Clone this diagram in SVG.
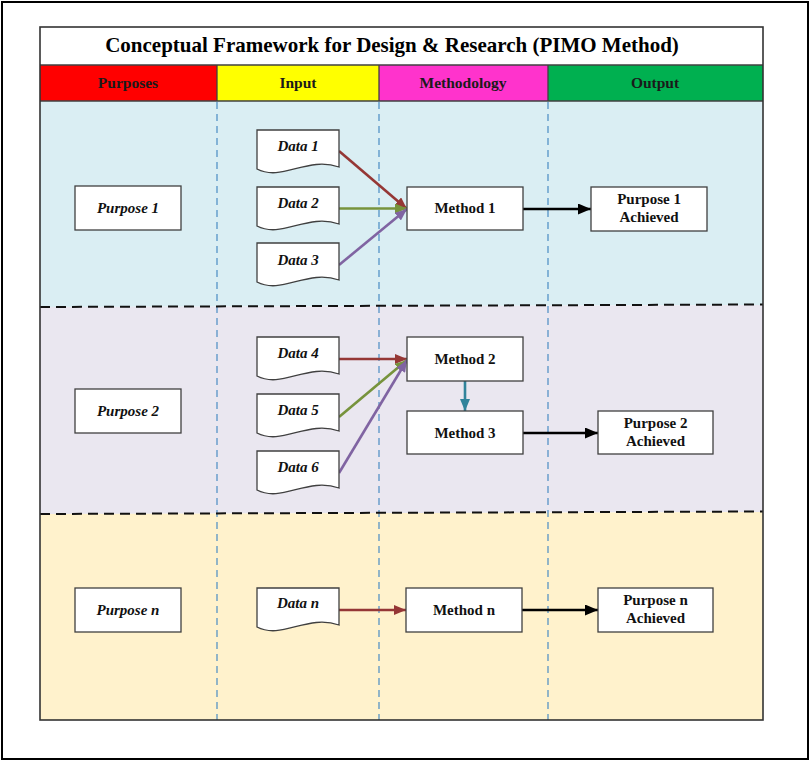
<svg xmlns="http://www.w3.org/2000/svg" width="811" height="762" viewBox="0 0 811 762">
<style>
.box{fill:#fff;stroke:#404040;stroke-width:1.3}
.doc{fill:#fff;stroke:#404040;stroke-width:1.3}
.t{font-family:"Liberation Serif","Times New Roman",serif;font-weight:bold;font-size:15px;fill:#111;text-anchor:middle}
.ti{font-style:italic}
.hd{font-family:"Liberation Serif","Times New Roman",serif;font-weight:bold;font-size:15.5px;fill:#1a1a1a;text-anchor:middle}
.vd{stroke:#4A8CC4;stroke-width:1.2;stroke-dasharray:7,5;fill:none}
.hdash{stroke:#111;stroke-width:2;stroke-dasharray:10,6;fill:none}
.c{fill:none;stroke-width:2.6}
</style>
<defs>
<marker id="aBlack" markerUnits="userSpaceOnUse" markerWidth="13" markerHeight="11" refX="13" refY="5.5" orient="auto"><path d="M0,0 L13,5.5 L0,11 z" fill="#000"/></marker>
<marker id="aBrown" markerUnits="userSpaceOnUse" markerWidth="12" markerHeight="10" refX="12" refY="5" orient="auto"><path d="M0,0 L12,5 L0,10 z" fill="#953735"/></marker>
<marker id="aGreen" markerUnits="userSpaceOnUse" markerWidth="12" markerHeight="10" refX="12" refY="5" orient="auto"><path d="M0,0 L12,5 L0,10 z" fill="#77933C"/></marker>
<marker id="aPurple" markerUnits="userSpaceOnUse" markerWidth="12" markerHeight="10" refX="12" refY="5" orient="auto"><path d="M0,0 L12,5 L0,10 z" fill="#8064A2"/></marker>
<marker id="aTeal" markerUnits="userSpaceOnUse" markerWidth="12" markerHeight="10" refX="12" refY="5" orient="auto"><path d="M0,0 L12,5 L0,10 z" fill="#31849B"/></marker>
</defs>

<rect x="2" y="2" width="806" height="757" fill="#fff" stroke="#000" stroke-width="2"/>

<g id="table">
<rect x="40" y="27" width="723" height="38" fill="#fff"/>
<polygon points="40,101 763,101 763,305 40,307" fill="#DAEEF3"/>
<polygon points="40,307 763,305 763,512 40,514" fill="#EAE7F0"/>
<polygon points="40,514 763,512 763,720 40,720" fill="#FFF2CC"/>
<rect x="40" y="65" width="177" height="36" fill="#FF0000"/>
<rect x="217" y="65" width="162" height="36" fill="#FFFF00"/>
<rect x="379" y="65" width="169" height="36" fill="#FF33CC"/>
<rect x="548" y="65" width="215" height="36" fill="#00B050"/>
<line x1="217" y1="65" x2="217" y2="101" stroke="#404040" stroke-width="1.3"/>
<line x1="379" y1="65" x2="379" y2="101" stroke="#404040" stroke-width="1.3"/>
<line x1="548" y1="65" x2="548" y2="101" stroke="#404040" stroke-width="1.3"/>
<line x1="40" y1="65" x2="763" y2="65" stroke="#404040" stroke-width="1.3"/>
<line x1="40" y1="101" x2="763" y2="101" stroke="#404040" stroke-width="1.6"/>
<line class="vd" x1="217" y1="102" x2="217" y2="720"/>
<line class="vd" x1="379" y1="102" x2="379" y2="720"/>
<line class="vd" x1="548" y1="102" x2="548" y2="720"/>
<line class="hdash" x1="40" y1="307" x2="763" y2="304.5"/>
<line class="hdash" x1="40" y1="514" x2="763" y2="511.5"/>
<rect x="40" y="27" width="723" height="693" fill="none" stroke="#333" stroke-width="1.6"/>
<text x="392" y="52" font-family="Liberation Serif, Times New Roman, serif" font-weight="bold" font-size="21" fill="#000" text-anchor="middle">Conceptual Framework for Design &amp; Research (PIMO Method)</text>
<text class="hd" x="128" y="88">Purposes</text>
<text class="hd" x="298" y="88">Input</text>
<text class="hd" x="463" y="88">Methodology</text>
<text class="hd" x="655" y="88">Output</text>
</g>

<g id="connectors">
<line class="c" stroke="#953735" x1="339" y1="151" x2="407" y2="209" marker-end="url(#aBrown)"/>
<line class="c" stroke="#77933C" x1="339" y1="208.5" x2="407" y2="208.5" marker-end="url(#aGreen)"/>
<line class="c" stroke="#8064A2" x1="339" y1="265" x2="407" y2="209" marker-end="url(#aPurple)"/>
<line class="c" stroke="#953735" x1="339" y1="359" x2="407" y2="359" marker-end="url(#aBrown)"/>
<line class="c" stroke="#77933C" x1="339" y1="417" x2="407" y2="360" marker-end="url(#aGreen)"/>
<line class="c" stroke="#8064A2" x1="339" y1="473" x2="407" y2="360" marker-end="url(#aPurple)"/>
<line class="c" stroke="#31849B" x1="465" y1="381" x2="465" y2="411" marker-end="url(#aTeal)"/>
<line class="c" stroke="#953735" x1="339" y1="610" x2="406" y2="610" marker-end="url(#aBrown)"/>
<line class="c" stroke="#000" stroke-width="3" x1="523" y1="209" x2="591" y2="209" marker-end="url(#aBlack)"/>
<line class="c" stroke="#000" stroke-width="3" x1="523" y1="433" x2="598" y2="433" marker-end="url(#aBlack)"/>
<line class="c" stroke="#000" stroke-width="3" x1="522" y1="610" x2="598" y2="610" marker-end="url(#aBlack)"/>
</g>

<g id="purpose1"><rect class="box" x="75" y="186" width="106" height="44"/><text class="t ti" x="128" y="213">Purpose 1</text></g>
<g id="purpose2"><rect class="box" x="75" y="389" width="106" height="44"/><text class="t ti" x="128" y="416">Purpose 2</text></g>
<g id="purposen"><rect class="box" x="75" y="588" width="106" height="44"/><text class="t ti" x="128" y="615">Purpose n</text></g>

<g id="data1"><path class="doc" d="M257,130 H339 V167 C307,156 282,182 257,169 Z"/><text class="t ti" x="298" y="151">Data 1</text></g>
<g id="data2"><path class="doc" d="M257,187 H339 V224 C307,213 282,239 257,226 Z"/><text class="t ti" x="298" y="208">Data 2</text></g>
<g id="data3"><path class="doc" d="M257,243 H339 V280 C307,269 282,295 257,282 Z"/><text class="t ti" x="298" y="265">Data 3</text></g>
<g id="data4"><path class="doc" d="M257,337 H339 V374 C307,363 282,389 257,376 Z"/><text class="t ti" x="298" y="358">Data 4</text></g>
<g id="data5"><path class="doc" d="M257,394 H339 V431 C307,420 282,446 257,433 Z"/><text class="t ti" x="298" y="415">Data 5</text></g>
<g id="data6"><path class="doc" d="M257,451 H339 V488 C307,477 282,503 257,490 Z"/><text class="t ti" x="298" y="472">Data 6</text></g>
<g id="datan"><path class="doc" d="M257,588 H339 V625 C307,614 282,640 257,627 Z"/><text class="t ti" x="298" y="608">Data n</text></g>

<g id="method1"><rect class="box" x="407" y="187" width="116" height="43"/><text class="t" x="465" y="213">Method 1</text></g>
<g id="method2"><rect class="box" x="407" y="337" width="116" height="44"/><text class="t" x="465" y="364">Method 2</text></g>
<g id="method3"><rect class="box" x="407" y="411" width="116" height="43"/><text class="t" x="465" y="438">Method 3</text></g>
<g id="methodn"><rect class="box" x="406" y="588" width="116" height="44"/><text class="t" x="464" y="615">Method n</text></g>

<g id="achieved1"><rect class="box" x="591" y="187" width="116" height="44"/><text class="t" x="649" y="204">Purpose 1</text><text class="t" x="649" y="222">Achieved</text></g>
<g id="achieved2"><rect class="box" x="598" y="411" width="115" height="43"/><text class="t" x="655.5" y="428">Purpose 2</text><text class="t" x="655.5" y="446">Achieved</text></g>
<g id="achievedn"><rect class="box" x="598" y="588" width="115" height="44"/><text class="t" x="655.5" y="605">Purpose n</text><text class="t" x="655.5" y="623">Achieved</text></g>
</svg>
